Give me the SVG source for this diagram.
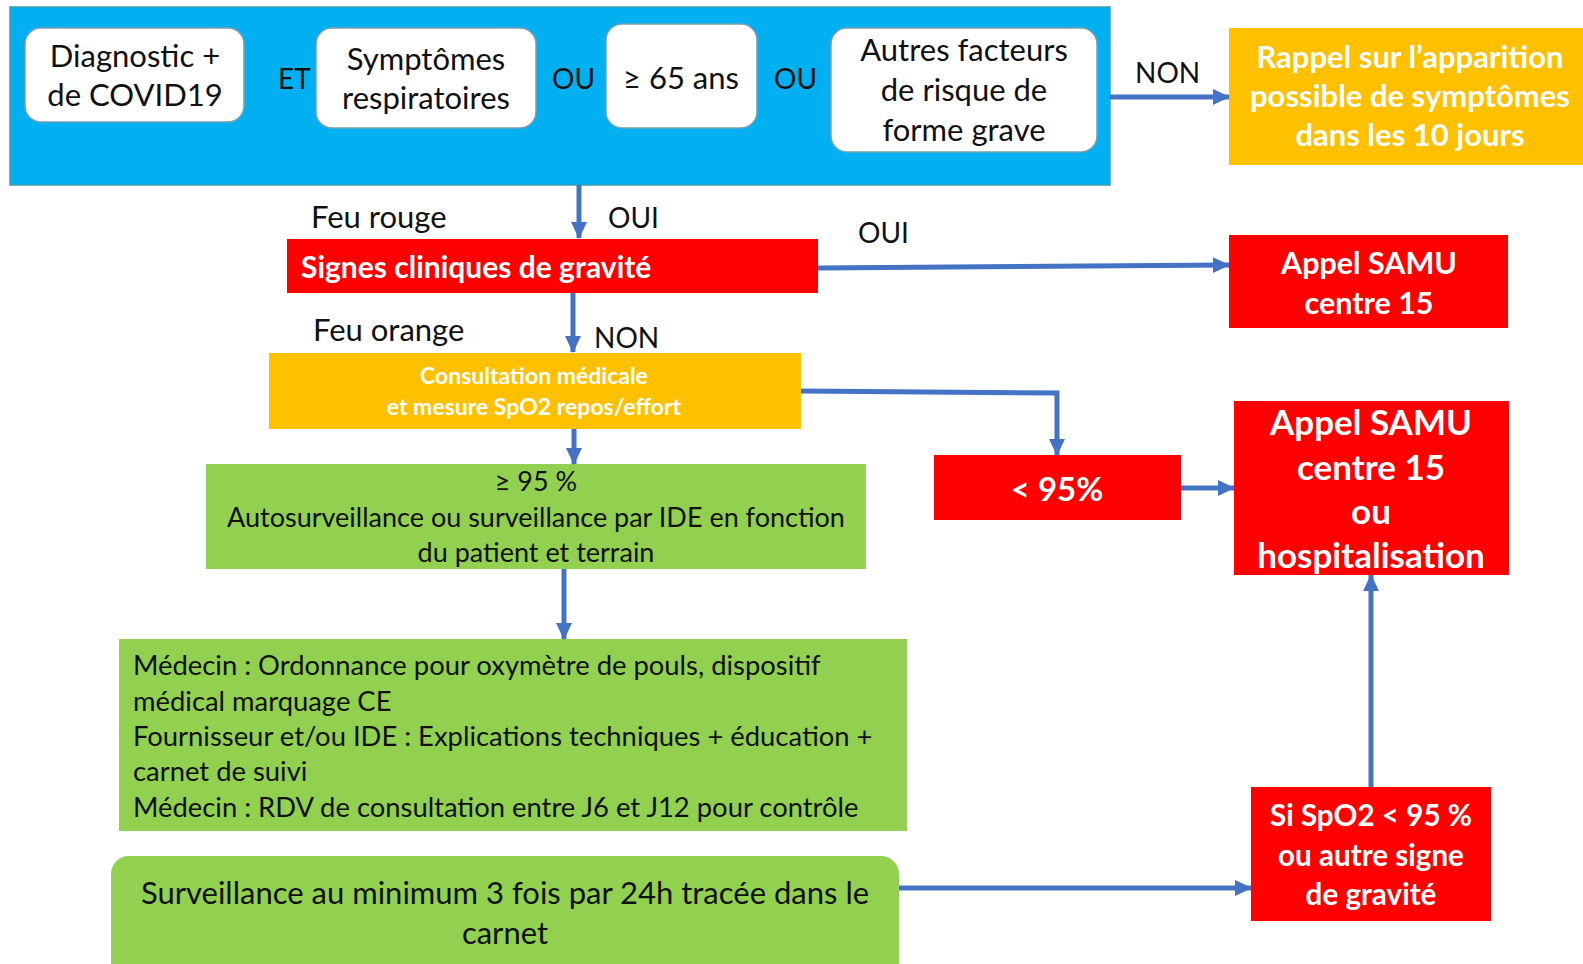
<svg xmlns="http://www.w3.org/2000/svg" width="1583" height="964" viewBox="0 0 1583 964">
<defs>
<style>
text{font-family:Lato,"Open Sans","Liberation Sans",sans-serif;}
.lbl{font-size:28px;fill:#111;}
.bx{font-size:31px;fill:#111;}
.wb{fill:#fff;stroke:#7a9fb0;stroke-width:1.5;}
.w{fill:#fff;font-weight:bold;}
.k{fill:#111;}
.c{text-anchor:middle;}
.red{fill:#FF0000;}
.org{fill:#FFC000;}
.grn{fill:#92D050;}
.con{stroke:#4472C4;stroke-width:5;fill:none;}
</style>
<marker id="ah" markerUnits="userSpaceOnUse" markerWidth="18" markerHeight="18" viewBox="0 0 18 18" refX="16" refY="9" orient="auto">
<path d="M0,1 L17,9 L0,17 z" fill="#4472C4"/>
</marker>
</defs>
<rect width="1583" height="964" fill="#fff"/>

<g id="criteria">
<rect x="10" y="7" width="1100" height="178" fill="#00B0F0" stroke="#3a9fb5" stroke-width="1.5"/>
<text class="lbl" x="278" y="89">ET</text>
<text class="lbl" x="552" y="89">OU</text>
<text class="lbl" x="774" y="89">OU</text>
</g>
<g id="diag">
<rect class="wb" x="25" y="28" width="219" height="94" rx="16"/>
<text class="bx c" x="135" y="67">Diagnostic +</text>
<text class="bx c" x="135" y="106">de COVID19</text>
</g>
<g id="sympt">
<rect class="wb" x="316" y="28" width="220" height="100" rx="16"/>
<text class="bx c" x="426" y="70">Symptômes</text>
<text class="bx c" x="426" y="109">respiratoires</text>
</g>
<g id="age">
<rect class="wb" x="606" y="24" width="151" height="104" rx="16"/>
<text class="bx c" x="681" y="89">≥ 65 ans</text>
</g>
<g id="autres">
<rect class="wb" x="831" y="28" width="266" height="124" rx="16"/>
<text class="bx c" x="964" y="61">Autres facteurs</text>
<text class="bx c" x="964" y="101">de risque de</text>
<text class="bx c" x="964" y="141">forme grave</text>
</g>

<g id="rappel">
<rect class="org" x="1229" y="28" width="354" height="137"/>
<text class="w c" font-size="31" x="1410" y="68">Rappel sur l’apparition</text>
<text class="w c" font-size="31" x="1410" y="107">possible de symptômes</text>
<text class="w c" font-size="31" x="1410" y="146">dans les 10 jours</text>
</g>

<g id="signes">
<rect class="red" x="287" y="239" width="531" height="54"/>
<text class="w" font-size="30" x="301" y="278">Signes cliniques de gravité</text>
</g>

<g id="samu1">
<rect class="red" x="1229" y="235" width="279" height="93"/>
<text class="w c" font-size="30.5" x="1369" y="274">Appel SAMU</text>
<text class="w c" font-size="30.5" x="1369" y="314">centre 15</text>
</g>

<g id="consult">
<rect class="org" x="269" y="353" width="532" height="76"/>
<text class="w c" font-size="23" x="534" y="384">Consultation médicale</text>
<text class="w c" font-size="23" x="534" y="415">et mesure SpO2 repos/effort</text>
</g>

<g id="inf95">
<rect class="red" x="934" y="455" width="247" height="65"/>
<text class="w c" font-size="33" x="1057" y="501">&lt; 95%</text>
</g>

<g id="samu2">
<rect class="red" x="1234" y="401" width="275" height="174"/>
<text class="w c" font-size="35" x="1371" y="435">Appel SAMU</text>
<text class="w c" font-size="35" x="1371" y="480">centre 15</text>
<text class="w c" font-size="35" x="1371" y="524">ou</text>
<text class="w c" font-size="35" x="1371" y="568">hospitalisation</text>
</g>

<g id="sup95">
<rect class="grn" x="206" y="464" width="660" height="105"/>
<text class="k c" font-size="27" x="536" y="491">≥ 95 %</text>
<text class="k c" font-size="27" x="536" y="527">Autosurveillance ou surveillance par IDE en fonction</text>
<text class="k c" font-size="27" x="536" y="562">du patient et terrain</text>
</g>

<g id="medecin">
<rect class="grn" x="119" y="639" width="788" height="192"/>
<text class="k" font-size="27.4" x="133" y="675">Médecin : Ordonnance pour oxymètre de pouls, dispositif</text>
<text class="k" font-size="27.4" x="133" y="711">médical marquage CE</text>
<text class="k" font-size="27.4" x="133" y="746">Fournisseur et/ou IDE : Explications techniques + éducation +</text>
<text class="k" font-size="27.4" x="133" y="781">carnet de suivi</text>
<text class="k" font-size="27.4" x="133" y="817">Médecin : RDV de consultation entre J6 et J12 pour contrôle</text>
</g>

<g id="surv">
<rect class="grn" x="111" y="856" width="788" height="130" rx="18"/>
<text class="k c" font-size="31" x="505" y="904">Surveillance au minimum 3 fois par 24h tracée dans le</text>
<text class="k c" font-size="31" x="505" y="944">carnet</text>
</g>

<g id="spo2">
<rect class="red" x="1251" y="787" width="240" height="134"/>
<text class="w c" font-size="29.6" x="1371" y="826">Si SpO2 &lt; 95 %</text>
<text class="w c" font-size="29.6" x="1371" y="866">ou autre signe</text>
<text class="w c" font-size="29.6" x="1371" y="905">de gravité</text>
</g>

<g id="connectors">
<path class="con" d="M1110,97 L1229,97" marker-end="url(#ah)"/>
<path class="con" d="M579,185 L579,238" marker-end="url(#ah)"/>
<path class="con" d="M818,268 L1229,265" marker-end="url(#ah)"/>
<path class="con" d="M573,293 L573,352" marker-end="url(#ah)"/>
<path class="con" d="M801,391 L1057,393 L1057,455" marker-end="url(#ah)"/>
<path class="con" d="M1181,488 L1234,488" marker-end="url(#ah)"/>
<path class="con" d="M574,429 L574,464" marker-end="url(#ah)"/>
<path class="con" d="M564,569 L564,639" marker-end="url(#ah)"/>
<path class="con" d="M899,888 L1251,888" marker-end="url(#ah)"/>
<path class="con" d="M1371,787 L1371,575" marker-end="url(#ah)"/>
</g>

<g id="labels">
<text class="lbl" x="1135" y="83">NON</text>
<text class="bx" x="311" y="228">Feu rouge</text>
<text class="lbl" x="608" y="228">OUI</text>
<text class="lbl" x="858" y="243">OUI</text>
<text class="bx" x="313" y="341">Feu orange</text>
<text class="lbl" x="594" y="348">NON</text>
</g>
</svg>
